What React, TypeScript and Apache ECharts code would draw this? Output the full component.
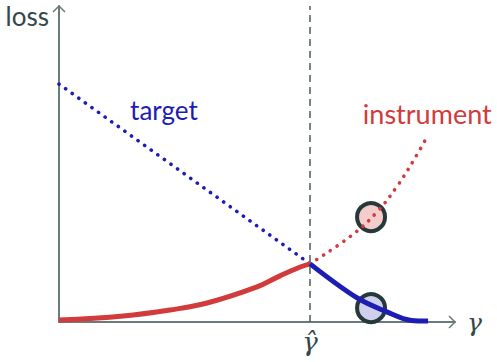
import { useEffect, useRef } from 'react';
import * as echarts from 'echarts';

const X_MAX = 100;
const Y_MAX = 100;
const KINK_X = 63.4;

const redSolid = [[0, 0.6], [16.2, 1.9], [28, 3.8], [37.4, 6.0], [50, 11.1], [55.8, 14.6], [60.9, 17.4], [63.4, 18.4]];
const redDotted = [[63.4, 18.4], [74, 27.5], [80.3, 34.8], [85.4, 43], [89.9, 51.9], [93.2, 59.2]];
const blueDotted = [[0, 75.3], [63.4, 18.4]];
const blueSolid = [[63.4, 18.4], [75.3, 7.6], [82.8, 3.2], [89, 0.5], [93.2, 0.3]];
const redCircle = [[78.8, 33.2]];
const blueCircle = [[78.8, 4.4]];
const targetLabel = [26.5, 67.1];
const instrumentLabel = [93.0, 66.1];

const RED = '#d13b3b';
const BLUE = '#1d1db4';
const AXIS = '#6b7a7a';
const TEXT = '#34474a';
const RING = '#26383a';
const FONT = 'Lato, "Open Sans", sans-serif';
const MATH = '"DejaVu Serif", "Liberation Serif", serif';

export default function App() {
  const ref = useRef<HTMLDivElement>(null);
  useEffect(() => {
    document.body.style.margin = '0';
    const chart = echarts.init(ref.current!, null, { renderer: 'svg' });
    const dotted = { width: 3.6, type: [0.1, 8] as any, cap: 'round' as any };
    chart.setOption({
      animation: false,
      grid: { left: 59, right: 42, top: 6, bottom: 40 },
      xAxis: {
        type: 'value', min: 0, max: X_MAX,
        axisLine: { show: true, lineStyle: { color: AXIS, width: 2 } },
        axisTick: { show: false }, axisLabel: { show: false }, splitLine: { show: false },
        name: 'γ', nameLocation: 'end', nameGap: 12,
        nameTextStyle: { fontSize: 25, color: TEXT, fontFamily: MATH, fontStyle: 'italic', verticalAlign: 'middle', padding: [0, 0, 6, 0] },
      },
      yAxis: {
        type: 'value', min: 0, max: Y_MAX,
        axisLine: { show: true, onZero: false, lineStyle: { color: AXIS, width: 2 } },
        axisTick: { show: false }, axisLabel: { show: false }, splitLine: { show: false },
        name: 'loss', nameLocation: 'end', nameGap: -10,
        nameTextStyle: { fontSize: 26, color: TEXT, fontFamily: FONT, align: 'right', verticalAlign: 'middle', padding: [0, 10, 0, 0] },
      },
      series: [
        {
          type: 'scatter', data: redCircle, symbolSize: 28, z: 1,
          itemStyle: { color: '#f3cccc', borderColor: RING, borderWidth: 4, opacity: 1 },
        },
        {
          type: 'scatter', data: blueCircle, symbolSize: 28, z: 1,
          itemStyle: { color: '#cfcfee', borderColor: RING, borderWidth: 4, opacity: 1 },
        },
        {
          type: 'line', data: blueDotted, showSymbol: false, z: 3,
          lineStyle: { color: BLUE, ...dotted },
          markPoint: {
            symbol: 'circle', symbolSize: 0,
            label: { show: true, position: 'inside', formatter: 'target', color: BLUE, fontSize: 26, fontFamily: FONT },
            data: [{ coord: targetLabel }],
          },
        },
        {
          type: 'line', data: redDotted, showSymbol: false, smooth: 0.4, z: 3,
          lineStyle: { color: RED, ...dotted },
          markPoint: {
            symbol: 'circle', symbolSize: 0,
            label: { show: true, position: 'inside', formatter: 'instrument', color: RED, fontSize: 27, fontFamily: FONT },
            data: [{ coord: instrumentLabel }],
          },
        },
        {
          type: 'line', data: redSolid, showSymbol: false, smooth: 0.4, z: 4,
          lineStyle: { color: RED, width: 5 },
          markLine: {
            symbol: 'none', silent: true,
            lineStyle: { color: '#4b5c5c', width: 1.5, type: [7, 5] as any },
            label: { show: true, position: 'start', formatter: 'γ̂', fontSize: 26, lineHeight: 30, color: TEXT, fontFamily: MATH, fontStyle: 'italic', distance: 5 },
            data: [{ xAxis: KINK_X }],
          },
        },
        {
          type: 'line', data: blueSolid, showSymbol: false, smooth: 0.35, z: 4,
          lineStyle: { color: BLUE, width: 5 },
        },
      ],
    });
    const px = chart.convertToPixel({ gridIndex: 0 }, [X_MAX, 0]) as number[];
    const py = chart.convertToPixel({ gridIndex: 0 }, [0, Y_MAX]) as number[];
    const s = 6;
    chart.setOption({
      graphic: [
        { type: 'polyline', shape: { points: [[px[0] - s, px[1] - s], [px[0], px[1]], [px[0] - s, px[1] + s]] }, style: { stroke: AXIS, lineWidth: 1.5, fill: null } },
        { type: 'polyline', shape: { points: [[py[0] - s, py[1] + s], [py[0], py[1]], [py[0] + s, py[1] + s]] }, style: { stroke: AXIS, lineWidth: 1.5, fill: null } },
      ],
    });
    return () => chart.dispose();
  }, []);
  return <div ref={ref} style={{ width: 497, height: 362 }} />;
}
